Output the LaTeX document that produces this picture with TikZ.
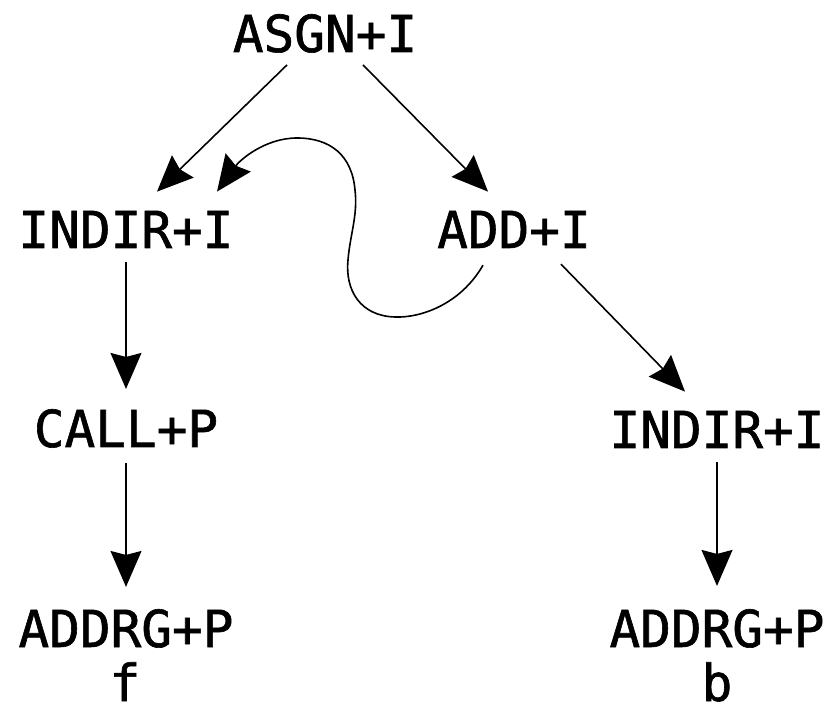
\documentclass[tikz,border=0pt]{standalone}
\usepackage{fontspec}
\newfontfamily\treefont[FakeBold=1.2]{DejaVu Sans Mono}
\usetikzlibrary{arrows.meta}
\begin{document}
\begin{tikzpicture}[x=1pt,y=-1pt,
  lab/.style={anchor=base,inner sep=0pt,font=\treefont\fontsize{51}{61}\selectfont},
  arr/.style={line width=1.6pt,-{Stealth[length=36pt,width=31pt,inset=4pt]}}]
\useasboundingbox (0,0) rectangle (831,711);
\node[lab] (asgn) at (325,52) {ASGN+I};
\node[lab] (indirL) at (126,248) {INDIR+I};
\node[lab] (add) at (514,248) {ADD+I};
\node[lab] (call) at (126,447) {CALL+P};
\node[lab] (indirR) at (717,448) {INDIR+I};
\node[lab] (addrgL) at (126,647) {ADDRG+P};
\node[lab] (f) at (125,701) {f};
\node[lab] (addrgR) at (717,647) {ADDRG+P};
\node[lab] (b) at (717,701) {b};
% connectors
\draw[arr] ([xshift=-38pt,yshift=-12pt]asgn.south) -- ([xshift=31pt,yshift=19pt]indirL.north);
\draw[arr] ([xshift=38pt,yshift=-12pt]asgn.south) -- ([xshift=-26pt,yshift=19pt]add.north);
\draw[arr] ([xshift=47pt,yshift=-16pt]add.south) -- ([xshift=-32pt,yshift=19pt]indirR.north);
\draw[arr] ([yshift=-14pt]indirL.south) -- ([yshift=20pt]call.north);
\draw[arr] ([yshift=-15pt]call.south) -- ([yshift=22pt]addrgL.north);
\draw[arr] ([yshift=-14pt]indirR.south) -- ([yshift=23pt]addrgR.north);
\draw[arr] ([xshift=-31pt,yshift=-17pt]add.south)
  .. controls (460,305) and (420,318) .. (395,317)
  .. controls (360,316) and (345,290) .. (348,260)
  .. controls (350,235) and (358,215) .. (355,190)
  .. controls (352,155) and (330,138) .. (297,138)
  .. controls (265,138) and (240,160) .. ([xshift=91pt,yshift=19pt]indirL.north);
\end{tikzpicture}
\end{document}
